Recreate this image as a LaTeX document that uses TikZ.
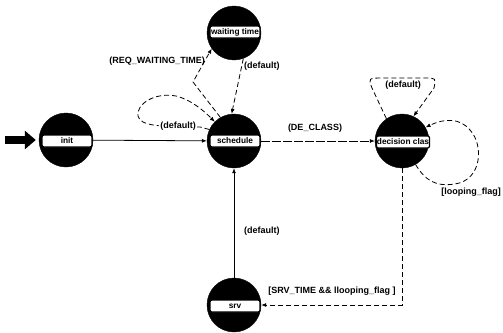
\documentclass[tikz,border=0pt]{standalone}
\usepackage{fontspec}
\setmainfont{Liberation Sans}
\usetikzlibrary{arrows.meta}
\tikzset{
  state/.style={circle,fill=black,draw=black,minimum size=54pt,inner sep=0pt},
  lbl/.style={draw=black,fill=white,line width=1.2pt,rounded corners=2pt,minimum width=50pt,minimum height=12pt,inner xsep=0.5pt,inner ysep=0pt,font=\bfseries\fontsize{8.3}{9}\selectfont},
  tr/.style={font=\bfseries\fontsize{9}{10}\selectfont,inner sep=1pt},
  arr/.style={line width=0.8pt,-{Latex[length=5pt,width=4pt]}},
  dsh/.style={dash pattern=on 5pt off 3pt},
  ldsh/.style={dash pattern=on 9pt off 2pt},
  bigarrow/.style={line width=8pt,-{Triangle[length=11pt,width=18pt]}}
}
\begin{document}
\begin{tikzpicture}[x=1pt,y=-1pt]
\useasboundingbox (0,0) rectangle (503,332);
% states
\node[state] (wt) at (234,33) {};
\node[state] (init) at (66,140) {};
\node[state] (sch) at (234,141) {};
\node[state] (dec) at (402,141) {};
\node[state] (srv) at (234,305) {};
\node[lbl] (wtl) at (235,32) {waiting time};
\node[lbl] (initl) at (67,141) {init};
\node[lbl] (schl) at (235,141) {schedule};
\node[lbl] (decl) at (403,142) {decision clas};
\node[lbl] (srvl) at (235,306) {srv};
% initial arrow
\coordinate (start) at (5,140);
\draw[bigarrow] (start) -- ([xshift=-3pt]init.west);
% transitions
\draw[arr] (init) -- (sch);
\draw[arr,ldsh] (sch) -- (dec);
\node[tr] (lde) at (315,128) {(DE\_CLASS)};
\draw[arr,dsh] (sch.120) -- (193,82) -- (wt.215);
\node[tr,anchor=east] (lreq) at (206,61) {(REQ\_WAITING\_TIME)};
\draw[arr,dsh] (wt.290) -- (sch.95);
\node[tr,anchor=west] (lwd) at (243,66) {(default)};
% schedule self loop
\draw[arr,dsh] (sch.155) -- (200,127) .. controls (160,127) and (140,126) .. (138,116)
  .. controls (136,104) and (155,92) .. (176,96) .. controls (192,100) and (205,112) .. (sch.135);
\node[tr,fill=white] (lsd) at (178,126) {(default)};
% decision top loop
\draw[arr,dsh] (dec.125) -- (372,88) .. controls (368,78) .. (385,78) -- (425,78)
  .. controls (436,78) .. (434,88) -- (dec.65);
\node[tr] (ldd) at (403,85) {(default)};
% decision right loop
\draw[arr,dsh] (dec.300) .. controls (425,180) and (435,187) .. (455,184)
  .. controls (482,180) and (484,145) .. (470,130) .. controls (460,118) and (445,118) .. (dec.30);
\node[tr,anchor=east] (llf) at (502,192) {[looping\_flag]};
% decision -> srv
\draw[arr,dsh] (dec.south) |- (srv.east);
\node[tr] (lsrv) at (332,291) {[SRV\_TIME \&\& llooping\_flag ]};
% srv -> schedule
\draw[arr] (srv.north) -- (sch.south);
\node[tr,anchor=west] (lsd2) at (243,231) {(default)};
\end{tikzpicture}
\end{document}
